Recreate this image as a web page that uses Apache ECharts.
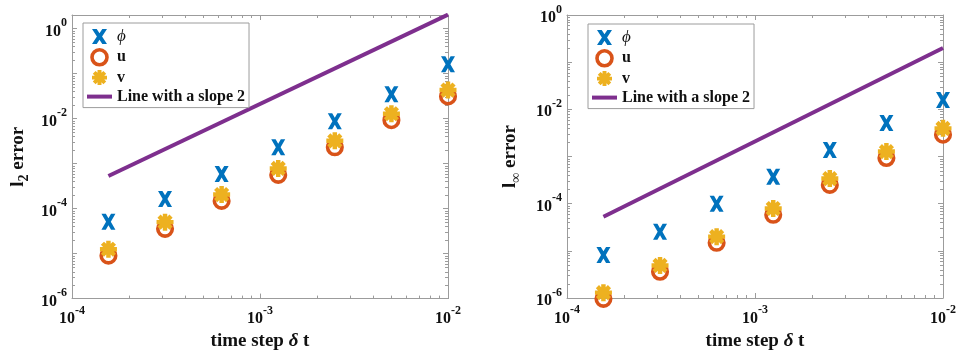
<!DOCTYPE html>
<html>
<head>
<meta charset="utf-8">
<script src="https://cdn.jsdelivr.net/npm/echarts@6/dist/echarts.min.js"></script>
<style>
  html, body { margin: 0; padding: 0; background: #fff; }
  #chart { width: 961px; height: 356px; }
</style>
</head>
<body>
<div id="chart"></div>
<script>
// Time steps (halved each run) and measured errors
const timeSteps = [1.5625e-4, 3.125e-4, 6.25e-4, 1.25e-3, 2.5e-3, 5e-3, 1e-2];

// l2 norm errors
const l2Phi = [5.1e-5, 1.64e-4, 5.9e-4, 2.3e-3, 8.7e-3, 3.46e-2, 0.16];
const l2U   = [9.0e-6, 3.55e-5, 1.48e-4, 5.6e-4, 2.3e-3, 9.2e-3, 3.1e-2];
const l2V   = [1.25e-5, 5.0e-5, 2.05e-4, 7.8e-4, 3.2e-3, 1.28e-2, 4.3e-2];
const l2Slope = [[1.5625e-4, 5.3e-4], [1e-2, 2.04]];

// l-infinity norm errors
const linfPhi = [8.2e-6, 2.53e-5, 9.9e-5, 3.7e-4, 1.38e-3, 5.15e-3, 1.58e-2];
const linfU   = [9.6e-7, 3.6e-6, 1.48e-5, 5.8e-5, 2.5e-4, 9.3e-4, 2.9e-3];
const linfV   = [1.3e-6, 4.9e-6, 2.0e-5, 7.9e-5, 3.4e-4, 1.27e-3, 3.95e-3];
const linfSlope = [[1.5625e-4, 5.3e-5], [1e-2, 0.2]];

const NAME_PHI = 'ϕ', NAME_U = 'u', NAME_V = 'v', NAME_LINE = 'Line with a slope 2';
const minorMultipliers = [2, 3, 4, 5, 6, 7, 8, 9];

const FONT = '"Liberation Serif", "Times New Roman", serif';
const AXIS_COLOR = '#9c9c9c';
const TEXT_COLOR = '#111';
const COLORS = { phi: '#0072BD', u: '#D95319', v: '#EDB120', line: '#7E2F8E' };

// Marker outlines: a bold "x" and a thick eight-armed asterisk
const crossSymbol = 'path://M0,0L4.4,0L7,3.9L9.6,0L14,0L9.4,7L14,14L9.6,14L7,10.1L4.4,14L0,14L4.6,7Z';
function asteriskPath(R, w) {
  const h = w / 2, r = h / Math.sin(Math.PI / 8), o = R + 1;
  const pts = [];
  for (let k = 0; k < 8; k++) {
    const a = k * Math.PI / 4 - Math.PI / 2;
    const c = Math.cos(a), s = Math.sin(a);
    pts.push([R * c + h * s, R * s - h * c]);
    pts.push([R * c - h * s, R * s + h * c]);
    const b = a + Math.PI / 8;
    pts.push([r * Math.cos(b), r * Math.sin(b)]);
  }
  return 'path://' + pts.map((p, i) => (i ? 'L' : 'M') + (p[0] + o).toFixed(2) + ',' + (p[1] + o).toFixed(2)).join('') + 'Z';
}
const starSymbol = asteriskPath(8, 4.2);
const lineIcon = 'path://M0,0L25,0L25,4L0,4Z';

const tickRich = {
  b: { fontFamily: FONT, fontWeight: 'bold', fontSize: 16, color: TEXT_COLOR, padding: [6, 0, 0, 0] },
  s: { fontFamily: FONT, fontWeight: 'bold', fontSize: 12, color: TEXT_COLOR, padding: [0, 0, 11, 0] }
};
// Decade label written as a power of ten
function powerLabel(v) {
  const e = Math.log10(v);
  const n = Math.round(e);
  if (Math.abs(e - n) > 1e-6) return '';
  return '{b|10}{s|' + n + '}';
}

const nameRich = {
  b: { fontFamily: FONT, fontWeight: 'bold', fontSize: 19, color: TEXT_COLOR },
  i: { fontFamily: FONT, fontWeight: 'bold', fontStyle: 'italic', fontSize: 19, color: TEXT_COLOR },
  sub: { fontFamily: FONT, fontWeight: 'bold', fontSize: 14, color: TEXT_COLOR, padding: [12, 0, 0, 0] }
};

function xAxes(gridIndex) {
  const common = {
    type: 'log', gridIndex: gridIndex, min: 1e-4, max: 1e-2, logBase: 10, splitNumber: 2,
    axisLine: { show: true, lineStyle: { color: AXIS_COLOR, width: 1 } },
    axisTick: { show: true, inside: true, length: 5, lineStyle: { color: AXIS_COLOR } },
    splitLine: { show: false }
  };
  return [
    Object.assign({}, common, {
      position: 'bottom',
      name: '{b|time step }{i|δ}{b| t}', nameLocation: 'middle', nameGap: 32,
      nameTextStyle: { rich: nameRich },
      axisLabel: { show: true, margin: 6, formatter: powerLabel, rich: tickRich }
    }),
    Object.assign({}, common, { position: 'top', axisLabel: { show: false } })
  ];
}

function yAxes(gridIndex, yMax, nameText, nameGap) {
  const common = {
    type: 'log', gridIndex: gridIndex, min: 1e-6, max: yMax, logBase: 10, splitNumber: 6,
    axisLine: { show: true, lineStyle: { color: AXIS_COLOR, width: 1 } },
    axisTick: { show: true, inside: true, length: 5, lineStyle: { color: AXIS_COLOR } },
    splitLine: { show: false }
  };
  return [
    Object.assign({}, common, {
      position: 'left',
      name: nameText, nameLocation: 'middle', nameGap: nameGap, nameRotate: 90,
      nameTextStyle: { rich: nameRich },
      axisLabel: {
        show: true, margin: 5, rich: tickRich,
        // only even decades carry a label
        formatter: function (v) {
          const n = Math.round(Math.log10(v));
          return n % 2 === 0 ? powerLabel(v) : '';
        }
      }
    }),
    Object.assign({}, common, { position: 'right', axisLabel: { show: false } })
  ];
}

// Log-spaced minor ticks (2..9 within each decade) on all four sides of a box
function minorTicks(xAxisIndex, yAxisIndex, yMax) {
  const data = [];
  for (let d = -4; d < -2; d++) {
    minorMultipliers.forEach(m => data.push([m * Math.pow(10, d), 1e-3, 0]));
  }
  for (let d = -6; d <= 0; d++) {
    minorMultipliers.forEach(m => {
      const v = m * Math.pow(10, d);
      if (v < yMax) data.push([1e-3, v, 1]);
    });
  }
  return {
    type: 'custom', name: 'minor-ticks', xAxisIndex: xAxisIndex, yAxisIndex: yAxisIndex,
    silent: true, clip: false, z: 1, data: data,
    renderItem: function (params, api) {
      const cs = params.coordSys;
      const p = api.coord([api.value(0), api.value(1)]);
      const L = 3;
      const st = { stroke: AXIS_COLOR, lineWidth: 1 };
      if (api.value(2) === 0) {
        const x = Math.round(p[0]) + 0.5;
        const yb = cs.y + cs.height, yt = cs.y;
        return { type: 'group', children: [
          { type: 'line', shape: { x1: x, y1: yb, x2: x, y2: yb - L }, style: st },
          { type: 'line', shape: { x1: x, y1: yt, x2: x, y2: yt + L }, style: st }
        ] };
      }
      const y = Math.round(p[1]) + 0.5;
      const xl = cs.x, xr = cs.x + cs.width;
      return { type: 'group', children: [
        { type: 'line', shape: { x1: xl, y1: y, x2: xl + L, y2: y }, style: st },
        { type: 'line', shape: { x1: xr, y1: y, x2: xr - L, y2: y }, style: st }
      ] };
    }
  };
}

function pairs(ys) { return timeSteps.map((t, i) => [t, ys[i]]); }

function errorSeries(axisIndex, phi, u, v, slope) {
  return [
    {
      type: 'scatter', name: NAME_PHI, xAxisIndex: axisIndex, yAxisIndex: axisIndex, z: 3, clip: false,
      symbol: crossSymbol, symbolSize: [14, 16],
      itemStyle: { color: COLORS.phi, opacity: 1 }, data: pairs(phi)
    },
    {
      type: 'scatter', name: NAME_U, xAxisIndex: axisIndex, yAxisIndex: axisIndex, z: 3, clip: false,
      symbol: 'circle', symbolSize: 14.5,
      itemStyle: { color: 'rgba(0,0,0,0)', borderColor: COLORS.u, borderWidth: 3.6, opacity: 1 },
      data: pairs(u)
    },
    {
      type: 'scatter', name: NAME_V, xAxisIndex: axisIndex, yAxisIndex: axisIndex, z: 4, clip: false,
      symbol: starSymbol, symbolSize: 17,
      itemStyle: { color: COLORS.v, opacity: 1 }, data: pairs(v)
    },
    {
      type: 'line', name: NAME_LINE, xAxisIndex: axisIndex, yAxisIndex: axisIndex, z: 2,
      symbol: 'none', showSymbol: false,
      lineStyle: { color: COLORS.line, width: 4 }, itemStyle: { color: COLORS.line },
      data: slope
    }
  ];
}

function legendAt(left, top) {
  return {
    left: left, top: top, orient: 'vertical',
    backgroundColor: '#fff', borderColor: AXIS_COLOR, borderWidth: 1, borderRadius: 0,
    padding: [5, 4, 3, 4], itemWidth: 25, itemHeight: 15, itemGap: 3,
    selectedMode: false, symbolKeepAspect: true,
    data: [
      { name: NAME_PHI, icon: crossSymbol, itemStyle: { color: COLORS.phi, opacity: 1 } },
      { name: NAME_U, icon: 'circle', itemStyle: { color: 'rgba(0,0,0,0)', borderColor: COLORS.u, borderWidth: 3.6, opacity: 1 } },
      { name: NAME_V, icon: starSymbol, itemStyle: { color: COLORS.v, opacity: 1 } },
      { name: NAME_LINE, icon: lineIcon, itemStyle: { color: COLORS.line, opacity: 1 } }
    ],
    formatter: function (name) { return name === NAME_PHI ? '{i|' + name + '}' : '{b|' + name + '}'; },
    textStyle: {
      color: TEXT_COLOR,
      rich: {
        i: { fontFamily: FONT, fontStyle: 'italic', fontSize: 17, lineHeight: 15, color: TEXT_COLOR },
        b: { fontFamily: FONT, fontWeight: 'bold', fontSize: 16, lineHeight: 15, color: TEXT_COLOR }
      }
    }
  };
}

const chart = echarts.init(document.getElementById('chart'), null, { renderer: 'canvas' });
chart.setOption({
  animation: false,
  backgroundColor: '#fff',
  grid: [
    { left: 72, top: 15, width: 376, height: 285 },
    { left: 567, top: 15, width: 376, height: 283 }
  ],
  xAxis: xAxes(0).concat(xAxes(1)),
  yAxis: yAxes(0, 2, '{b|l}{sub|2}{b| error}', 41).concat(yAxes(1, 1, '{b|l}{sub|∞}{b| error}', 44)),
  legend: [legendAt(83, 23), legendAt(588, 24)],
  series: [].concat(
    errorSeries(0, l2Phi, l2U, l2V, l2Slope),
    errorSeries(2, linfPhi, linfU, linfV, linfSlope),
    [minorTicks(0, 0, 2), minorTicks(2, 2, 1)]
  )
});
</script>
</body>
</html>
